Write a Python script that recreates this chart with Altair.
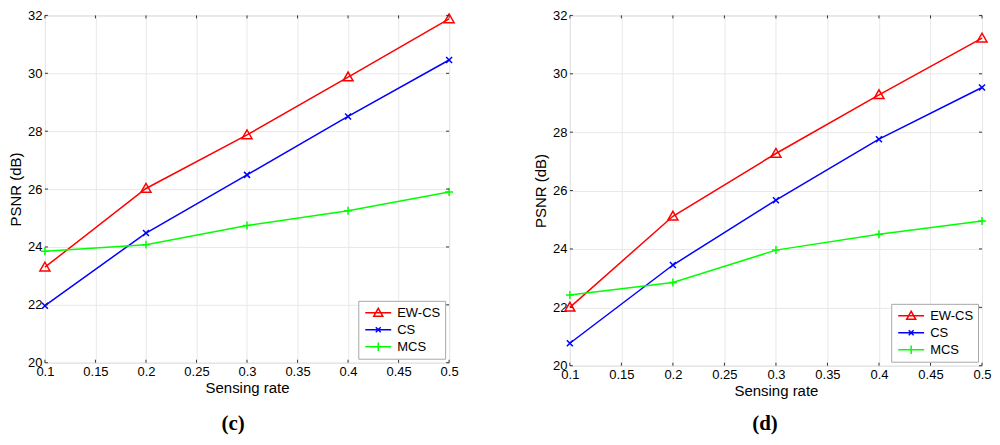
import altair as alt
import pandas as pd

rates = [0.1, 0.2, 0.3, 0.4, 0.5]
methods = ["EW-CS", "CS", "MCS"]
colors = ["#ff0000", "#0000ff", "#00ff00"]

# panel (c)
c_ewcs = [23.3, 26.02, 27.87, 29.87, 31.88]
c_cs = [21.97, 24.48, 26.49, 28.51, 30.46]
c_mcs = [23.85, 24.08, 24.74, 25.25, 25.9]
# panel (d)
d_ewcs = [22.0, 25.12, 27.27, 29.28, 31.22]
d_cs = [20.77, 23.45, 25.67, 27.76, 29.53]
d_mcs = [22.42, 22.85, 23.96, 24.5, 24.96]

x_ticks = [0.1, 0.15, 0.2, 0.25, 0.3, 0.35, 0.4, 0.45, 0.5]
y_ticks = [20, 22, 24, 26, 28, 30, 32]

marker_paths = [
    "M-1,0.75L0,-1L1,0.75Z",
    "M-0.6,-0.6L0.6,0.6M-0.6,0.6L0.6,-0.6",
    "M-0.8,0H0.8M0,-0.8V0.8",
]
legend_paths = [
    "M-1.857,0H1.857M-0.65,0.5L0,-0.65L0.65,0.5Z",
    "M-1.857,0H1.857M-0.35,-0.35L0.35,0.35M-0.35,0.35L0.35,-0.35",
    "M-1.857,0H1.857M0,-0.6V0.6",
]
shape_expr = (
    "datum.value === 'EW-CS' ? '" + legend_paths[0] + "' : "
    "(datum.value === 'CS' ? '" + legend_paths[1] + "' : '" + legend_paths[2] + "')"
)

FONT = "Liberation Sans"


def panel(series, caption, w, h, dx, cap_offset):
    rows = []
    for m, vals in zip(methods, series):
        for r, v in zip(rates, vals):
            rows.append({"rate": r, "psnr": v, "method": m})
    df = pd.DataFrame(rows)

    xscale = alt.Scale(domain=[0.1, 0.5], nice=False, zero=False)
    yscale = alt.Scale(domain=[20, 32], nice=False, zero=False)
    xaxis = alt.Axis(values=x_ticks, format="~g", title="Sensing rate")
    yaxis = alt.Axis(values=y_ticks, format="d", title="PSNR (dB)")
    x = alt.X("rate:Q", scale=xscale, axis=xaxis)
    y = alt.Y("psnr:Q", scale=yscale, axis=yaxis)
    cscale = alt.Scale(domain=methods, range=colors)

    legend = alt.Legend(
        title=None, orient="bottom-right", offset=4, padding=4,
        strokeColor="#a8a8a8", fillColor="white",
        symbolSize=196, symbolOffset=8, labelOffset=11,
        symbolStrokeWidth=1.5, labelFont=FONT, labelFontSize=13,
        labelColor="black", rowPadding=2,
        symbolType=alt.ExprRef(expr=shape_expr),
        symbolFillColor="transparent",
    )

    line = alt.Chart(df).mark_line(strokeWidth=1.5).encode(
        x=x, y=y, color=alt.Color("method:N", scale=cscale, legend=legend),
    )
    pt_layers = []
    for m, c, p in zip(methods, colors, marker_paths):
        pt_layers.append(
            alt.Chart(df).transform_filter(alt.datum.method == m)
            .mark_point(filled=False, size=100, strokeWidth=1.5, opacity=1,
                        shape=p, color=c)
            .encode(x=x, y=y)
        )

    xt = pd.DataFrame({"rate": x_ticks})
    yt = pd.DataFrame({"psnr": y_ticks})
    tick_col = "#333333"
    t1 = alt.Chart(xt).mark_rule(color=tick_col).encode(x=x, y=alt.value(h), y2=alt.value(h - 3))
    t2 = alt.Chart(xt).mark_rule(color=tick_col).encode(x=x, y=alt.value(0), y2=alt.value(3))
    t3 = alt.Chart(yt).mark_rule(color=tick_col).encode(y=y, x=alt.value(0), x2=alt.value(3))
    t4 = alt.Chart(yt).mark_rule(color=tick_col).encode(y=y, x=alt.value(w - 3), x2=alt.value(w))

    return alt.layer(line, *pt_layers, t1, t2, t3, t4).properties(
        width=w, height=h,
        title=alt.TitleParams(caption, orient="bottom", font="Liberation Serif",
                              fontSize=21, fontWeight="bold", offset=cap_offset, dx=dx,
                              anchor="middle", color="black"),
    )


left = panel([c_ewcs, c_cs, c_mcs], "(c)", 405, 348, -14, 17)
right = panel([d_ewcs, d_cs, d_mcs], "(d)", 413, 351, -11, 14)

chart = alt.hconcat(left, right, spacing=74).resolve_legend(color="independent").properties(
    padding={"left": 0, "top": 0, "right": 0, "bottom": 0}
).configure_view(
    stroke="#d4d4d4", strokeWidth=1
).configure_axis(
    grid=True, gridColor="#e8e8e8", gridWidth=1, domain=False, ticks=False,
    tickSize=0, labelFont=FONT, labelFontSize=13, labelColor="black",
    titleFont=FONT, titleFontSize=15, titleFontWeight="normal", titleColor="black",
    labelFlush=False, labelOverlap=False, labelPadding=3, labelBound=False,
).configure_axisY(
    titlePadding=4
).configure_axisX(
    titlePadding=2
)

chart.save("out.html", embed_options={"renderer": "svg", "actions": False})
